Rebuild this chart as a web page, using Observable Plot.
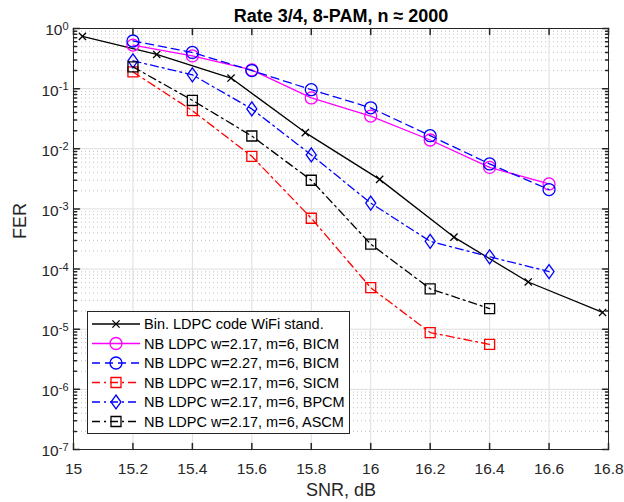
<!DOCTYPE html>
<html><head><meta charset="utf-8">
<script src="https://cdn.jsdelivr.net/npm/d3@7"></script>
<script src="https://cdn.jsdelivr.net/npm/@observablehq/plot@0.6"></script>
<style>
body{margin:0;background:#fff;}
#wrap{position:relative;width:624px;height:502px;font-family:"Liberation Sans",Arial,Helvetica,sans-serif;}
#wrap svg.overlay{position:absolute;left:0;top:0;pointer-events:none;}
</style></head><body><div id="wrap"></div>
<script>
// ---- text ----
const title = "Rate 3/4, 8-PAM, n \u2248 2000";
const xLabel = "SNR, dB";
const yLabel = "FER";
const xTicks = [15, 15.2, 15.4, 15.6, 15.8, 16, 16.2, 16.4, 16.6, 16.8];
const yExps = [0, -1, -2, -3, -4, -5, -6, -7];

// ---- data ----
const snrBin = [15.03, 15.28, 15.53, 15.78, 16.03, 16.28, 16.53, 16.78];
const ferBin = [0.74, 0.37, 0.15, 0.0186, 0.0031, 3.4e-4, 6.1e-5, 1.9e-5];

const snrLong = [15.2, 15.4, 15.6, 15.8, 16.0, 16.2, 16.4, 16.6];
const ferBicm217 = [0.53, 0.35, 0.205, 0.07, 0.035, 0.014, 0.0049, 0.0026];
const ferBicm227 = [0.62, 0.40, 0.20, 0.096, 0.048, 0.0165, 0.0056, 0.0021];
const ferBpcm = [0.29, 0.17, 0.046, 0.0079, 1.25e-3, 2.9e-4, 1.6e-4, 9.1e-5];

const snrShort = [15.2, 15.4, 15.6, 15.8, 16.0, 16.2, 16.4];
const ferSicm = [0.19, 0.043, 0.0075, 7.0e-4, 4.9e-5, 8.8e-6, 5.6e-6];
const ferAscm = [0.23, 0.064, 0.0163, 0.0030, 2.6e-4, 4.7e-5, 2.2e-5];

const seriesNames = [
  "Bin. LDPC code WiFi stand.",
  "NB LDPC w=2.17, m=6, BICM",
  "NB LDPC w=2.27, m=6, BICM",
  "NB LDPC w=2.17, m=6, SICM",
  "NB LDPC w=2.17, m=6, BPCM",
  "NB LDPC w=2.17, m=6, ASCM"
];

// ---- symbols ----
const rad = s => Math.sqrt(s / Math.PI);
const symX = {draw(c, s){const r = rad(s); c.moveTo(-r,-r); c.lineTo(r,r); c.moveTo(-r,r); c.lineTo(r,-r);}};
const symSq = {draw(c, s){const r = rad(s); c.moveTo(-r,-r); c.lineTo(r,-r); c.lineTo(r,r); c.lineTo(-r,r); c.closePath();}};
const symDia = {draw(c, s){const r = rad(s); c.moveTo(0,-r*1.4); c.lineTo(r,0); c.lineTo(0,r*1.4); c.lineTo(-r,0); c.closePath();}};
const symO = {draw(c, s){const r = rad(s); c.moveTo(r,0); c.arc(0,0,r,0,2*Math.PI); c.closePath();}};

const DASH = "8,5", DASHDOT = "8,4,2,4";
const series = [
  {name: seriesNames[0], x: snrBin,   y: ferBin,     color: "#000000", dash: null,    sym: symX,   r: 3.6},
  {name: seriesNames[1], x: snrLong,  y: ferBicm217, color: "#ff00ff", dash: null,    sym: symO,   r: 6},
  {name: seriesNames[2], x: snrLong,  y: ferBicm227, color: "#0000ff", dash: DASH,    sym: symO,   r: 6},
  {name: seriesNames[3], x: snrShort, y: ferSicm,    color: "#ff0000", dash: DASHDOT, sym: symSq,  r: 5},
  {name: seriesNames[4], x: snrLong,  y: ferBpcm,    color: "#0000ff", dash: DASHDOT, sym: symDia, r: 5},
  {name: seriesNames[5], x: snrShort, y: ferAscm,    color: "#000000", dash: DASHDOT, sym: symSq,  r: 5}
];

const axisColor = "#262626";
const yMin = 1e-7, yMax = 1;
const decades = yExps.map(e => Math.pow(10, e));
const minor = [];
for (let e = -7; e < 0; e++) for (let m = 2; m <= 9; m++) minor.push(m * Math.pow(10, e));

const tickShape = {draw(c, l){c.moveTo(0,0); c.lineTo(0,-l);}};

const marks = [
  Plot.ruleY(minor, {y: d => d, stroke: "#c4c4c4", strokeDasharray: "1,3", strokeWidth: 1}),
  Plot.ruleX(xTicks, {x: d => d, stroke: "#dedede", strokeWidth: 1}),
  Plot.ruleY(decades, {y: d => d, stroke: "#dedede", strokeWidth: 1})
];
for (const s of series) {
  const data = s.x.map((x, i) => ({x, y: s.y[i]}));
  marks.push(Plot.line(data, {x: "x", y: "y", stroke: s.color, strokeWidth: 1.3, strokeDasharray: s.dash}));
  marks.push(Plot.dot(data, {x: "x", y: "y", stroke: s.color, fill: "none", strokeWidth: 1.3, symbol: s.sym, r: s.r}));
}
marks.push(
  Plot.frame({stroke: axisColor, strokeWidth: 1}),
  Plot.vector(xTicks, {x: d => d, y: yMin, length: 6, rotate: 0, anchor: "start", shape: tickShape, stroke: axisColor}),
  Plot.vector(xTicks, {x: d => d, y: yMax, length: 6, rotate: 180, anchor: "start", shape: tickShape, stroke: axisColor}),
  Plot.vector(decades, {x: 15, y: d => d, length: 6, rotate: 90, anchor: "start", shape: tickShape, stroke: axisColor}),
  Plot.vector(decades, {x: 16.8, y: d => d, length: 6, rotate: -90, anchor: "start", shape: tickShape, stroke: axisColor}),
  Plot.vector(minor, {x: 15, y: d => d, length: 3, rotate: 90, anchor: "start", shape: tickShape, stroke: axisColor}),
  Plot.vector(minor, {x: 16.8, y: d => d, length: 3, rotate: -90, anchor: "start", shape: tickShape, stroke: axisColor}),
  Plot.axisX({ticks: xTicks, tickSize: 0, tickPadding: 13, label: null, tickFormat: d => String(+d.toFixed(1)), fill: axisColor, fontSize: 15.5}),
  Plot.axisY({ticks: decades, tickSize: 0, tickPadding: 5, label: null, dy: 2, tickFormat: d => "10^" + Math.round(Math.log10(d)), fill: axisColor, fontSize: 15.5}),
  Plot.text([xLabel], {text: d => d, frameAnchor: "bottom", lineAnchor: "middle", dy: 41, fontSize: 18, fill: axisColor}),
  Plot.text([yLabel], {text: d => d, frameAnchor: "left", lineAnchor: "middle", dx: -53, rotate: -90, fontSize: 18, fill: axisColor}),
  Plot.text([title], {text: d => d, frameAnchor: "top", lineAnchor: "middle", dy: -12, fontSize: 18, fontWeight: "bold", fill: "#000"})
);

const plot = Plot.plot({
  width: 624, height: 502,
  marginLeft: 73, marginRight: 16, marginTop: 28, marginBottom: 53,
  x: {type: "linear", domain: [15, 16.8]},
  y: {type: "log", domain: [yMin, yMax]},
  style: {fontFamily: '"Liberation Sans", Arial, Helvetica, sans-serif', fontSize: "15.5px", background: "#fff", overflow: "visible"},
  marks
});
const wrap = document.getElementById("wrap");
wrap.appendChild(plot);

// superscript exponents for y tick labels
d3.select(plot).selectAll('g[aria-label="y-axis tick label"] text').each(function() {
  const t = this.textContent;
  const m = t.match(/^10\^(-?\d+)$/);
  if (!m) return;
  const sel = d3.select(this);
  sel.text(null);
  sel.append("tspan").text("10");
  sel.append("tspan").attr("dy", "-0.5em").attr("font-size", "11px").text(m[1]);
});

// ---- legend overlay ----
const svg = d3.select(wrap).append("svg").attr("class", "overlay").attr("width", 624).attr("height", 502);
const lg = {x: 87, y: 311, w: 262, h: 122, row0: 324, step: 19.5, lx1: 92, lx2: 140, mx: 116, tx: 144};
svg.append("rect").attr("x", lg.x + 0.5).attr("y", lg.y + 0.5).attr("width", lg.w).attr("height", lg.h)
  .attr("fill", "#fff").attr("stroke", axisColor).attr("stroke-width", 1);
series.forEach((s, i) => {
  const y = lg.row0 + i * lg.step;
  svg.append("line").attr("x1", lg.lx1).attr("x2", lg.lx2).attr("y1", y).attr("y2", y)
    .attr("stroke", s.color).attr("stroke-width", 1.3).attr("stroke-dasharray", s.dash);
  const p = d3.path(); s.sym.draw(p, s.r * s.r * Math.PI);
  svg.append("path").attr("d", p.toString()).attr("transform", `translate(${lg.mx},${y})`)
    .attr("fill", "none").attr("stroke", s.color).attr("stroke-width", 1.3);
  svg.append("text").attr("x", lg.tx).attr("y", y).attr("dy", "0.35em")
    .attr("font-size", "14.5px").attr("fill", "#000")
    .attr("font-family", '"Liberation Sans", Arial, Helvetica, sans-serif').text(s.name);
});
</script></body></html>
